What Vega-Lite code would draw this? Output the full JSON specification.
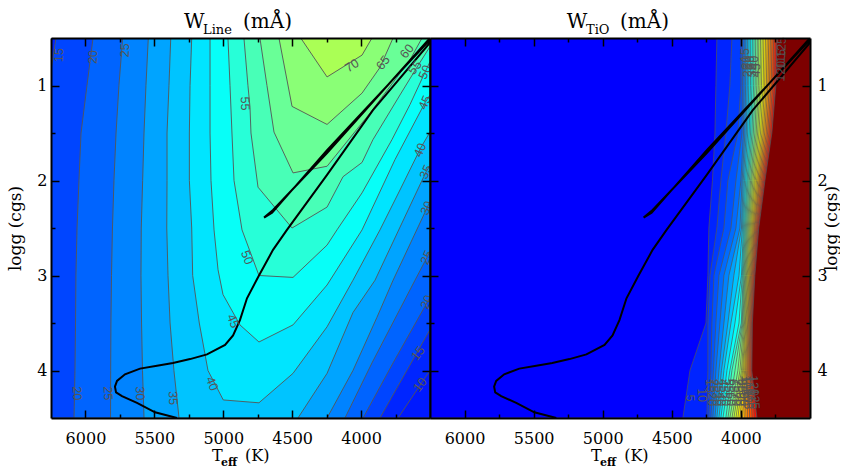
{"$schema":"https://vega.github.io/schema/vega-lite/v6.json","background":"white","padding":{"left":6,"top":12,"right":0,"bottom":0},"bounds":"flush","spacing":0,"resolve":{"scale":{"fill":"independent"}},"config":{"view":{"stroke":null},"axis":{"grid":false,"title":null,"domainColor":"#000","tickColor":"#000","labelColor":"#000","labelOverlap":false,"labelFlush":false},"text":{"font":"Liberation Sans"}},
"datasets":{
"track":[{"T":5336,"g":4.5},{"T":5495,"g":4.44},{"T":5626,"g":4.34},{"T":5735,"g":4.27},{"T":5778,"g":4.23},{"T":5786,"g":4.17},{"T":5771,"g":4.11},{"T":5713,"g":4.04},{"T":5604,"g":3.98},{"T":5481,"g":3.95},{"T":5365,"g":3.92},{"T":5241,"g":3.88},{"T":5118,"g":3.83},{"T":4987,"g":3.73},{"T":4929,"g":3.63},{"T":4879,"g":3.47},{"T":4828,"g":3.24},{"T":4741,"g":3.0},{"T":4639,"g":2.73},{"T":4538,"g":2.52},{"T":4247,"g":1.94},{"T":3914,"g":1.26},{"T":3500,"g":0.55},{"T":3500,"g":0.5},{"T":4247,"g":1.71},{"T":4639,"g":2.31},{"T":4704,"g":2.39},{"T":4646,"g":2.34},{"T":4247,"g":1.68},{"T":3500,"g":0.52}],
"left":[
{"L":8,"T":6250,"g":0.5},{"L":8,"T":6250,"g":4.5},{"L":8,"T":3500,"g":4.5},{"L":8,"T":3500,"g":0.5},
{"L":10,"T":6250,"g":0.5},{"L":10,"T":6250,"g":4.5},{"L":10,"T":3732,"g":4.5},{"L":10,"T":3500,"g":4.0},{"L":10,"T":3500,"g":0.5},
{"L":15,"T":6214,"g":0.5},{"L":15,"T":6250,"g":0.84},{"L":15,"T":6250,"g":4.5},{"L":15,"T":3863,"g":4.5},{"L":15,"T":3500,"g":3.57},{"L":15,"T":3500,"g":0.5},
{"L":20,"T":5945,"g":0.5},{"L":20,"T":5989,"g":1},{"L":20,"T":6032,"g":1.5},{"L":20,"T":6047,"g":2},{"L":20,"T":6061,"g":2.5},{"L":20,"T":6069,"g":3},{"L":20,"T":6072,"g":3.5},{"L":20,"T":6076,"g":4},{"L":20,"T":6083,"g":4.5},{"L":20,"T":3986,"g":4.5},{"L":20,"T":3768,"g":3.92},{"L":20,"T":3500,"g":3.23},{"L":20,"T":3500,"g":0.5},
{"L":25,"T":5730,"g":0.5},{"L":25,"T":5757,"g":1},{"L":25,"T":5778,"g":1.5},{"L":25,"T":5793,"g":2},{"L":25,"T":5804,"g":2.5},{"L":25,"T":5811,"g":3},{"L":25,"T":5815,"g":3.5},{"L":25,"T":5817,"g":4},{"L":25,"T":5818,"g":4.5},{"L":25,"T":4117,"g":4.5},{"L":25,"T":3921,"g":3.92},{"L":25,"T":3609,"g":3.05},{"L":25,"T":3522,"g":2.81},{"L":25,"T":3500,"g":2.74},{"L":25,"T":3500,"g":0.5},
{"L":30,"T":5544,"g":0.5},{"L":30,"T":5561,"g":1},{"L":30,"T":5575,"g":1.5},{"L":30,"T":5585,"g":2},{"L":30,"T":5595,"g":2.5},{"L":30,"T":5597,"g":3},{"L":30,"T":5593,"g":3.5},{"L":30,"T":5586,"g":4},{"L":30,"T":5575,"g":4.5},{"L":30,"T":4247,"g":4.5},{"L":30,"T":4059,"g":4},{"L":30,"T":3885,"g":3.44},{"L":30,"T":3768,"g":3.05},{"L":30,"T":3522,"g":2.29},{"L":30,"T":3500,"g":2.22},{"L":30,"T":3500,"g":0.5},
{"L":35,"T":5381,"g":0.5},{"L":35,"T":5394,"g":1},{"L":35,"T":5408,"g":1.5},{"L":35,"T":5408,"g":2},{"L":35,"T":5410,"g":2.5},{"L":35,"T":5401,"g":3},{"L":35,"T":5386,"g":3.5},{"L":35,"T":5358,"g":4},{"L":35,"T":5321,"g":4.5},{"L":35,"T":4458,"g":4.5},{"L":35,"T":4247,"g":4.03},{"L":35,"T":4059,"g":3.39},{"L":35,"T":3899,"g":3.05},{"L":35,"T":3529,"g":1.91},{"L":35,"T":3500,"g":1.84},{"L":35,"T":3500,"g":0.5},
{"L":40,"T":5229,"g":0.5},{"L":40,"T":5241,"g":1},{"L":40,"T":5246,"g":1.5},{"L":40,"T":5246,"g":2},{"L":40,"T":5229,"g":2.5},{"L":40,"T":5222,"g":3},{"L":40,"T":5174,"g":3.5},{"L":40,"T":5111,"g":4},{"L":40,"T":5000,"g":4.31},{"L":40,"T":4741,"g":4.34},{"L":40,"T":4494,"g":4.03},{"L":40,"T":4247,"g":3.54},{"L":40,"T":4059,"g":3.05},{"L":40,"T":3863,"g":2.52},{"L":40,"T":3718,"g":2.1},{"L":40,"T":3565,"g":1.65},{"L":40,"T":3500,"g":1.49},{"L":40,"T":3500,"g":0.5},
{"L":45,"T":5096,"g":0.5},{"L":45,"T":5096,"g":1},{"L":45,"T":5096,"g":1.5},{"L":45,"T":5089,"g":2},{"L":45,"T":5067,"g":2.52},{"L":45,"T":5038,"g":2.94},{"L":45,"T":5002,"g":3.2},{"L":45,"T":4879,"g":3.52},{"L":45,"T":4741,"g":3.7},{"L":45,"T":4494,"g":3.52},{"L":45,"T":4247,"g":3.1},{"L":45,"T":3993,"g":2.52},{"L":45,"T":3754,"g":1.78},{"L":45,"T":3536,"g":1.18},{"L":45,"T":3500,"g":1.1},{"L":45,"T":3500,"g":0.5},
{"L":50,"T":4966,"g":0.5},{"L":50,"T":4951,"g":1},{"L":50,"T":4937,"g":1.5},{"L":50,"T":4922,"g":2},{"L":50,"T":4864,"g":2.52},{"L":50,"T":4741,"g":3},{"L":50,"T":4494,"g":3.02},{"L":50,"T":4247,"g":2.68},{"L":50,"T":4175,"g":2.52},{"L":50,"T":3993,"g":2.13},{"L":50,"T":3776,"g":1.57},{"L":50,"T":3645,"g":1.2},{"L":50,"T":3536,"g":0.86},{"L":50,"T":3500,"g":0.75},{"L":50,"T":3500,"g":0.5},
{"L":55,"T":4850,"g":0.5},{"L":55,"T":4821,"g":1},{"L":55,"T":4806,"g":1.23},{"L":55,"T":4799,"g":1.5},{"L":55,"T":4748,"g":2.07},{"L":55,"T":4501,"g":2.5},{"L":55,"T":4247,"g":2.28},{"L":55,"T":4131,"g":1.96},{"L":55,"T":3993,"g":1.81},{"L":55,"T":3914,"g":1.57},{"L":55,"T":3718,"g":1.1},{"L":55,"T":3587,"g":0.79},{"L":55,"T":3500,"g":0.59},{"L":55,"T":3500,"g":0.5},
{"L":60,"T":4734,"g":0.5},{"L":60,"T":4683,"g":1},{"L":60,"T":4632,"g":1.49},{"L":60,"T":4494,"g":1.92},{"L":60,"T":4247,"g":1.85},{"L":60,"T":3935,"g":1.29},{"L":60,"T":3645,"g":0.73},{"L":60,"T":3558,"g":0.5},
{"L":65,"T":4596,"g":0.5},{"L":65,"T":4501,"g":1.22},{"L":65,"T":4247,"g":1.41},{"L":65,"T":3993,"g":1.08},{"L":65,"T":3863,"g":0.81},{"L":65,"T":3768,"g":0.5},
{"L":70,"T":4438,"g":0.5},{"L":70,"T":4247,"g":0.91},{"L":70,"T":3993,"g":0.68},{"L":70,"T":3921,"g":0.5}],
"right":[
{"L":-2.5,"T":6250,"g":0.5},{"L":-2.5,"T":6250,"g":4.5},{"L":-2.5,"T":3500,"g":4.5},{"L":-2.5,"T":3500,"g":0.5},
{"L":5,"T":4174,"g":0.5},{"L":5,"T":4181,"g":1},{"L":5,"T":4188,"g":1.5},{"L":5,"T":4206,"g":2},{"L":5,"T":4232,"g":2.5},{"L":5,"T":4239,"g":3},{"L":5,"T":4253,"g":3.5},{"L":5,"T":4369,"g":4},{"L":5,"T":4420,"g":4.5},{"L":5,"T":3500,"g":4.5},{"L":5,"T":3500,"g":0.5},
{"L":10,"T":4065,"g":0.5},{"L":10,"T":4080,"g":1},{"L":10,"T":4109,"g":1.5},{"L":10,"T":4145,"g":2},{"L":10,"T":4174,"g":2.5},{"L":10,"T":4224,"g":3},{"L":10,"T":4239,"g":3.5},{"L":10,"T":4239,"g":4},{"L":10,"T":4246,"g":4.5},{"L":10,"T":3500,"g":4.5},{"L":10,"T":3500,"g":0.5},
{"L":15,"T":4000,"g":0.5},{"L":15,"T":4000,"g":1},{"L":15,"T":4022,"g":1.5},{"L":15,"T":4094,"g":2},{"L":15,"T":4123,"g":2.5},{"L":15,"T":4195,"g":3},{"L":15,"T":4210,"g":3.5},{"L":15,"T":4217,"g":4},{"L":15,"T":4232,"g":4.5},{"L":15,"T":3500,"g":4.5},{"L":15,"T":3500,"g":0.5},
{"L":20,"T":3988,"g":0.5},{"L":20,"T":3989,"g":1},{"L":20,"T":3992,"g":1.5},{"L":20,"T":4036,"g":2},{"L":20,"T":4072,"g":2.5},{"L":20,"T":4159,"g":3},{"L":20,"T":4181,"g":3.5},{"L":20,"T":4199,"g":4},{"L":20,"T":4217,"g":4.5},{"L":20,"T":3500,"g":4.5},{"L":20,"T":3500,"g":0.5},
{"L":25,"T":3976,"g":0.5},{"L":25,"T":3977,"g":1},{"L":25,"T":3981,"g":1.5},{"L":25,"T":4000,"g":2},{"L":25,"T":4036,"g":2.5},{"L":25,"T":4123,"g":3},{"L":25,"T":4152,"g":3.5},{"L":25,"T":4181,"g":4},{"L":25,"T":4203,"g":4.5},{"L":25,"T":3500,"g":4.5},{"L":25,"T":3500,"g":0.5},
{"L":30,"T":3964,"g":0.5},{"L":30,"T":3966,"g":1},{"L":30,"T":3971,"g":1.5},{"L":30,"T":3991,"g":2},{"L":30,"T":4007,"g":2.5},{"L":30,"T":4087,"g":3},{"L":30,"T":4123,"g":3.5},{"L":30,"T":4159,"g":4},{"L":30,"T":4188,"g":4.5},{"L":30,"T":3500,"g":4.5},{"L":30,"T":3500,"g":0.5},
{"L":35,"T":3953,"g":0.5},{"L":35,"T":3954,"g":1},{"L":35,"T":3961,"g":1.5},{"L":35,"T":3983,"g":2},{"L":35,"T":3996,"g":2.5},{"L":35,"T":4051,"g":3},{"L":35,"T":4094,"g":3.5},{"L":35,"T":4141,"g":4},{"L":35,"T":4174,"g":4.5},{"L":35,"T":3500,"g":4.5},{"L":35,"T":3500,"g":0.5},
{"L":40,"T":3941,"g":0.5},{"L":40,"T":3943,"g":1},{"L":40,"T":3951,"g":1.5},{"L":40,"T":3974,"g":2},{"L":40,"T":3989,"g":2.5},{"L":40,"T":4014,"g":3},{"L":40,"T":4072,"g":3.5},{"L":40,"T":4123,"g":4},{"L":40,"T":4159,"g":4.5},{"L":40,"T":3500,"g":4.5},{"L":40,"T":3500,"g":0.5},
{"L":45,"T":3929,"g":0.5},{"L":45,"T":3931,"g":1},{"L":45,"T":3940,"g":1.5},{"L":45,"T":3965,"g":2},{"L":45,"T":3982,"g":2.5},{"L":45,"T":3996,"g":3},{"L":45,"T":4043,"g":3.5},{"L":45,"T":4101,"g":4},{"L":45,"T":4145,"g":4.5},{"L":45,"T":3500,"g":4.5},{"L":45,"T":3500,"g":0.5},
{"L":50,"T":3917,"g":0.5},{"L":50,"T":3920,"g":1},{"L":50,"T":3930,"g":1.5},{"L":50,"T":3956,"g":2},{"L":50,"T":3975,"g":2.5},{"L":50,"T":3990,"g":3},{"L":50,"T":4014,"g":3.5},{"L":50,"T":4080,"g":4},{"L":50,"T":4130,"g":4.5},{"L":50,"T":3500,"g":4.5},{"L":50,"T":3500,"g":0.5},
{"L":55,"T":3905,"g":0.5},{"L":55,"T":3908,"g":1},{"L":55,"T":3920,"g":1.5},{"L":55,"T":3948,"g":2},{"L":55,"T":3968,"g":2.5},{"L":55,"T":3984,"g":3},{"L":55,"T":3997,"g":3.5},{"L":55,"T":4065,"g":4},{"L":55,"T":4109,"g":4.5},{"L":55,"T":3500,"g":4.5},{"L":55,"T":3500,"g":0.5},
{"L":60,"T":3893,"g":0.5},{"L":60,"T":3897,"g":1},{"L":60,"T":3910,"g":1.5},{"L":60,"T":3939,"g":2},{"L":60,"T":3961,"g":2.5},{"L":60,"T":3978,"g":3},{"L":60,"T":3991,"g":3.5},{"L":60,"T":4043,"g":4},{"L":60,"T":4094,"g":4.5},{"L":60,"T":3500,"g":4.5},{"L":60,"T":3500,"g":0.5},
{"L":65,"T":3881,"g":0.5},{"L":65,"T":3885,"g":1},{"L":65,"T":3899,"g":1.5},{"L":65,"T":3930,"g":2},{"L":65,"T":3954,"g":2.5},{"L":65,"T":3972,"g":3},{"L":65,"T":3986,"g":3.5},{"L":65,"T":4022,"g":4},{"L":65,"T":4080,"g":4.5},{"L":65,"T":3500,"g":4.5},{"L":65,"T":3500,"g":0.5},
{"L":70,"T":3870,"g":0.5},{"L":70,"T":3874,"g":1},{"L":70,"T":3889,"g":1.5},{"L":70,"T":3922,"g":2},{"L":70,"T":3947,"g":2.5},{"L":70,"T":3966,"g":3},{"L":70,"T":3980,"g":3.5},{"L":70,"T":4007,"g":4},{"L":70,"T":4065,"g":4.5},{"L":70,"T":3500,"g":4.5},{"L":70,"T":3500,"g":0.5},
{"L":75,"T":3858,"g":0.5},{"L":75,"T":3862,"g":1},{"L":75,"T":3879,"g":1.5},{"L":75,"T":3913,"g":2},{"L":75,"T":3940,"g":2.5},{"L":75,"T":3960,"g":3},{"L":75,"T":3974,"g":3.5},{"L":75,"T":3996,"g":4},{"L":75,"T":4051,"g":4.5},{"L":75,"T":3500,"g":4.5},{"L":75,"T":3500,"g":0.5},
{"L":80,"T":3846,"g":0.5},{"L":80,"T":3851,"g":1},{"L":80,"T":3869,"g":1.5},{"L":80,"T":3904,"g":2},{"L":80,"T":3933,"g":2.5},{"L":80,"T":3954,"g":3},{"L":80,"T":3968,"g":3.5},{"L":80,"T":3988,"g":4},{"L":80,"T":4036,"g":4.5},{"L":80,"T":3500,"g":4.5},{"L":80,"T":3500,"g":0.5},
{"L":85,"T":3834,"g":0.5},{"L":85,"T":3839,"g":1},{"L":85,"T":3858,"g":1.5},{"L":85,"T":3896,"g":2},{"L":85,"T":3926,"g":2.5},{"L":85,"T":3948,"g":3},{"L":85,"T":3963,"g":3.5},{"L":85,"T":3981,"g":4},{"L":85,"T":4022,"g":4.5},{"L":85,"T":3500,"g":4.5},{"L":85,"T":3500,"g":0.5},
{"L":90,"T":3822,"g":0.5},{"L":90,"T":3828,"g":1},{"L":90,"T":3848,"g":1.5},{"L":90,"T":3887,"g":2},{"L":90,"T":3919,"g":2.5},{"L":90,"T":3942,"g":3},{"L":90,"T":3957,"g":3.5},{"L":90,"T":3973,"g":4},{"L":90,"T":4007,"g":4.5},{"L":90,"T":3500,"g":4.5},{"L":90,"T":3500,"g":0.5},
{"L":95,"T":3810,"g":0.5},{"L":95,"T":3816,"g":1},{"L":95,"T":3838,"g":1.5},{"L":95,"T":3878,"g":2},{"L":95,"T":3912,"g":2.5},{"L":95,"T":3936,"g":3},{"L":95,"T":3951,"g":3.5},{"L":95,"T":3966,"g":4},{"L":95,"T":3989,"g":4.5},{"L":95,"T":3500,"g":4.5},{"L":95,"T":3500,"g":0.5},
{"L":100,"T":3798,"g":0.5},{"L":100,"T":3805,"g":1},{"L":100,"T":3828,"g":1.5},{"L":100,"T":3869,"g":2},{"L":100,"T":3905,"g":2.5},{"L":100,"T":3930,"g":3},{"L":100,"T":3946,"g":3.5},{"L":100,"T":3958,"g":4},{"L":100,"T":3972,"g":4.5},{"L":100,"T":3500,"g":4.5},{"L":100,"T":3500,"g":0.5},
{"L":105,"T":3786,"g":0.5},{"L":105,"T":3793,"g":1},{"L":105,"T":3817,"g":1.5},{"L":105,"T":3861,"g":2},{"L":105,"T":3899,"g":2.5},{"L":105,"T":3924,"g":3},{"L":105,"T":3940,"g":3.5},{"L":105,"T":3951,"g":4},{"L":105,"T":3954,"g":4.5},{"L":105,"T":3500,"g":4.5},{"L":105,"T":3500,"g":0.5},
{"L":110,"T":3775,"g":0.5},{"L":110,"T":3781,"g":1},{"L":110,"T":3807,"g":1.5},{"L":110,"T":3852,"g":2},{"L":110,"T":3892,"g":2.5},{"L":110,"T":3918,"g":3},{"L":110,"T":3934,"g":3.5},{"L":110,"T":3943,"g":4},{"L":110,"T":3937,"g":4.5},{"L":110,"T":3500,"g":4.5},{"L":110,"T":3500,"g":0.5},
{"L":115,"T":3763,"g":0.5},{"L":115,"T":3770,"g":1},{"L":115,"T":3797,"g":1.5},{"L":115,"T":3843,"g":2},{"L":115,"T":3885,"g":2.5},{"L":115,"T":3911,"g":3},{"L":115,"T":3929,"g":3.5},{"L":115,"T":3936,"g":4},{"L":115,"T":3919,"g":4.5},{"L":115,"T":3500,"g":4.5},{"L":115,"T":3500,"g":0.5},
{"L":120,"T":3751,"g":0.5},{"L":120,"T":3758,"g":1},{"L":120,"T":3787,"g":1.5},{"L":120,"T":3835,"g":2},{"L":120,"T":3878,"g":2.5},{"L":120,"T":3905,"g":3},{"L":120,"T":3923,"g":3.5},{"L":120,"T":3928,"g":4},{"L":120,"T":3902,"g":4.5},{"L":120,"T":3500,"g":4.5},{"L":120,"T":3500,"g":0.5},
{"L":125,"T":3739,"g":0.5},{"L":125,"T":3747,"g":1},{"L":125,"T":3776,"g":1.5},{"L":125,"T":3826,"g":2},{"L":125,"T":3871,"g":2.5},{"L":125,"T":3899,"g":3},{"L":125,"T":3917,"g":3.5},{"L":125,"T":3921,"g":4},{"L":125,"T":3884,"g":4.5},{"L":125,"T":3500,"g":4.5},{"L":125,"T":3500,"g":0.5},
{"L":142,"T":3739,"g":0.5},{"L":142,"T":3747,"g":1},{"L":142,"T":3776,"g":1.5},{"L":142,"T":3826,"g":2},{"L":142,"T":3871,"g":2.5},{"L":142,"T":3899,"g":3},{"L":142,"T":3917,"g":3.5},{"L":142,"T":3921,"g":4},{"L":142,"T":3884,"g":4.5},{"L":142,"T":3500,"g":4.5},{"L":142,"T":3500,"g":0.5}]
},
"hconcat":[
{"width":379,"height":380,"layer":[
{"data":{"name":"left"},"mark":{"type":"line","stroke":"#555","strokeWidth":0.9,"clip":true},"encoding":{"x":{"field":"T","type":"quantitative","scale":{"domain":[6250,3500],"nice":false,"zero":false},"axis":{"orient":"bottom","zindex":1,"values":[6000,5500,5000,4500,4000],"tickSize":-8,"tickWidth":1.5,"domainWidth":2,"labelFont":"DejaVu Serif","labelFontSize":16,"labelPadding":20,"format":"d"}},"y":{"field":"g","type":"quantitative","scale":{"domain":[4.5,0.5],"nice":false,"zero":false},"axis":{"orient":"left","zindex":1,"values":[1,2,3,4],"tickSize":-8,"tickWidth":1.5,"domainWidth":2,"labelFont":"DejaVu Serif","labelFontSize":16,"labelPadding":12,"format":"d","title":"logg (cgs)","titleFont":"DejaVu Serif","titleFontSize":17,"titleFontWeight":"normal","titlePadding":12}},"order":{"value":null},"detail":{"field":"L","type":"nominal"},"fill":{"field":"L","type":"quantitative","legend":null,"scale":{"interpolate":"rgb","domain":[4,24.5,44,63.5,83,102.5,122,141.5],"range":["#0000ff","#0080ff","#00ffff","#80ff80","#ffff00","#ff8000","#ff0000","#800000"]}}}},
{"data":{"name":"track"},"mark":{"type":"line","color":"#000","strokeWidth":2,"clip":true},"encoding":{"x":{"field":"T","type":"quantitative","axis":{"orient":"bottom","zindex":1,"values":[5750,5250,4750,4250,3750],"tickSize":-4,"tickWidth":1.5,"labels":false,"domain":false}},"y":{"field":"g","type":"quantitative","axis":{"orient":"left","zindex":1,"values":[1.5,2.5,3.5],"tickSize":-4,"tickWidth":1.5,"labels":false,"domain":false,"title":null}},"order":{"value":null}}},
{"data":{"values":[{"T":6192,"g":0.68,"s":"15"},{"T":5945,"g":0.7,"s":"20"},{"T":5713,"g":0.63,"s":"25"}]},"mark":{"type":"text","angle":-88,"fontSize":12.5,"color":"#555"},"encoding":{"x":{"field":"T","type":"quantitative","axis":{"orient":"top","zindex":1,"values":[6000,5500,5000,4500,4000],"tickSize":-8,"tickWidth":1.5,"labels":false,"domainWidth":2}},"y":{"field":"g","type":"quantitative","axis":{"orient":"right","zindex":1,"values":[1,2,3,4],"tickSize":-8,"tickWidth":1.5,"labels":false,"domainWidth":2,"title":null}},"text":{"field":"s"}}},
{"data":{"values":[{"T":4842,"g":1.19,"s":"55"},{"T":5365,"g":4.29,"s":"35"},{"T":5604,"g":4.24,"s":"30"},{"T":5836,"g":4.24,"s":"25"},{"T":6061,"g":4.24,"s":"20"}]},"mark":{"type":"text","angle":88,"fontSize":12.5,"color":"#555"},"encoding":{"x":{"field":"T","type":"quantitative","axis":{"orient":"top","zindex":1,"values":[5750,5250,4750,4250,3750],"tickSize":-4,"tickWidth":1.5,"labels":false,"domain":false}},"y":{"field":"g","type":"quantitative","axis":{"orient":"right","zindex":1,"values":[1.5,2.5,3.5],"tickSize":-4,"tickWidth":1.5,"labels":false,"domain":false,"title":null}},"text":{"field":"s"}}},
{"data":{"values":[{"T":4828,"g":2.81,"s":"50"},{"T":4929,"g":3.48,"s":"45"},{"T":5082,"g":4.14,"s":"40"}]},"mark":{"type":"text","angle":68,"fontSize":12.5,"color":"#555"},"encoding":{"x":{"field":"T","type":"quantitative","axis":null},"y":{"field":"g","type":"quantitative","axis":null},"text":{"field":"s"}}},
{"data":{"values":[{"T":4066,"g":0.79,"s":"70"}]},"mark":{"type":"text","angle":-32,"fontSize":12.5,"color":"#555"},"encoding":{"x":{"field":"T","type":"quantitative","axis":null},"y":{"field":"g","type":"quantitative","axis":null},"text":{"field":"s"}}},
{"data":{"values":[{"T":3841,"g":0.76,"s":"65"},{"T":3667,"g":0.64,"s":"60"},{"T":3609,"g":0.81,"s":"55"},{"T":3587,"g":3.82,"s":"15"},{"T":3572,"g":4.15,"s":"10"}]},"mark":{"type":"text","angle":-52,"fontSize":12.5,"color":"#555"},"encoding":{"x":{"field":"T","type":"quantitative","axis":null},"y":{"field":"g","type":"quantitative","axis":null},"text":{"field":"s"}}},
{"data":{"values":[{"T":3536,"g":0.86,"s":"50"},{"T":3536,"g":1.18,"s":"45"},{"T":3572,"g":1.68,"s":"40"},{"T":3529,"g":1.91,"s":"35"},{"T":3522,"g":2.29,"s":"30"},{"T":3522,"g":2.81,"s":"25"},{"T":3522,"g":3.28,"s":"20"}]},"mark":{"type":"text","angle":-66,"fontSize":12.5,"color":"#555"},"encoding":{"x":{"field":"T","type":"quantitative","axis":null},"y":{"field":"g","type":"quantitative","axis":null},"text":{"field":"s"}}},
{"data":{"values":[{"T":5285,"g":0.395,"s":"W"},{"T":4857,"g":0.395,"s":"(mÅ)"}]},"mark":{"type":"text","align":"left","baseline":"alphabetic","font":"DejaVu Serif","fontSize":20,"color":"#000"},"encoding":{"x":{"field":"T","type":"quantitative","axis":null},"y":{"field":"g","type":"quantitative","axis":null},"text":{"field":"s"}}},
{"data":{"values":[{"T":5082,"g":4.95,"s":"T"},{"T":4842,"g":4.95,"s":"(K)"}]},"mark":{"type":"text","align":"left","baseline":"alphabetic","font":"DejaVu Serif","fontSize":16,"color":"#000"},"encoding":{"x":{"field":"T","type":"quantitative","axis":null},"y":{"field":"g","type":"quantitative","axis":null},"text":{"field":"s"}}},
{"data":{"values":[{"T":5147,"g":0.46,"s":"Line"}]},"mark":{"type":"text","align":"left","baseline":"alphabetic","font":"DejaVu Serif","fontSize":13,"color":"#000"},"encoding":{"x":{"field":"T","type":"quantitative","axis":null},"y":{"field":"g","type":"quantitative","axis":null},"text":{"field":"s"}}},
{"data":{"values":[{"T":5016,"g":5.0,"s":"eff"}]},"mark":{"type":"text","align":"left","baseline":"alphabetic","font":"DejaVu Serif","fontWeight":"bold","fontSize":11,"color":"#000"},"encoding":{"x":{"field":"T","type":"quantitative","axis":null},"y":{"field":"g","type":"quantitative","axis":null},"text":{"field":"s"}}}
],"resolve":{"axis":{"x":"independent","y":"independent"}}},
{"width":380,"height":380,"layer":[
{"data":{"name":"right"},"mark":{"type":"line","stroke":"#555","strokeWidth":0.7,"clip":true},"encoding":{"x":{"field":"T","type":"quantitative","scale":{"domain":[6250,3500],"nice":false,"zero":false},"axis":{"orient":"bottom","zindex":1,"values":[6000,5500,5000,4500,4000],"tickSize":-8,"tickWidth":1.5,"domainWidth":2,"labelFont":"DejaVu Serif","labelFontSize":16,"labelPadding":20,"format":"d"}},"y":{"field":"g","type":"quantitative","scale":{"domain":[4.5,0.5],"nice":false,"zero":false},"axis":{"orient":"right","zindex":1,"values":[1,2,3,4],"tickSize":-8,"tickWidth":1.5,"domainWidth":2,"labelFont":"DejaVu Serif","labelFontSize":16,"labelPadding":15,"format":"d","title":"logg (cgs)","titleFont":"DejaVu Serif","titleFontSize":17,"titleFontWeight":"normal","titlePadding":13,"titleAngle":270,"titleBaseline":"bottom"}},"order":{"value":null},"detail":{"field":"L","type":"nominal"},"fill":{"field":"L","type":"quantitative","legend":null,"scale":{"interpolate":"rgb","domain":[-2.5,24.5,44,63.5,83,102.5,122,141.5],"range":["#0000ff","#0080ff","#00ffff","#80ff80","#ffff00","#ff8000","#ff0000","#800000"]}}}},
{"data":{"name":"track"},"mark":{"type":"line","color":"#000","strokeWidth":2,"clip":true},"encoding":{"x":{"field":"T","type":"quantitative","axis":{"orient":"bottom","zindex":1,"values":[5750,5250,4750,4250,3750],"tickSize":-4,"tickWidth":1.5,"labels":false,"domain":false}},"y":{"field":"g","type":"quantitative","axis":{"orient":"right","zindex":1,"values":[1.5,2.5,3.5],"tickSize":-4,"tickWidth":1.5,"labels":false,"domain":false,"title":null}},"order":{"value":null}}},
{"data":{"values":[{"T":3970,"g":0.68,"s":"15"},{"T":3960,"g":0.76,"s":"20"},{"T":3950,"g":0.84,"s":"25"},{"T":3935,"g":0.76,"s":"30"},{"T":3920,"g":0.84,"s":"35"},{"T":3905,"g":0.76,"s":"40"},{"T":3890,"g":0.84,"s":"45"},{"T":3710,"g":0.72,"s":"115"},{"T":3710,"g":0.85,"s":"120"},{"T":3705,"g":0.6,"s":"125"}]},"mark":{"type":"text","angle":-88,"fontSize":12.5,"color":"#555"},"encoding":{"x":{"field":"T","type":"quantitative","axis":{"orient":"top","zindex":1,"values":[6000,5500,5000,4500,4000],"tickSize":-8,"tickWidth":1.5,"labels":false,"domainWidth":2}},"y":{"field":"g","type":"quantitative","axis":{"orient":"left","zindex":1,"values":[1,2,3,4],"tickSize":-8,"tickWidth":1.5,"labels":false,"domainWidth":2,"title":null}},"text":{"field":"s"}}},
{"data":{"values":[{"T":4224,"g":4.16,"s":"15"},{"T":4210,"g":4.3,"s":"20"},{"T":4195,"g":4.16,"s":"25"},{"T":4174,"g":4.3,"s":"30"},{"T":4159,"g":4.16,"s":"35"},{"T":4145,"g":4.3,"s":"40"},{"T":4123,"g":4.16,"s":"45"},{"T":4109,"g":4.3,"s":"50"},{"T":4087,"g":4.16,"s":"55"},{"T":4072,"g":4.3,"s":"60"},{"T":4051,"g":4.16,"s":"65"},{"T":4036,"g":4.3,"s":"70"},{"T":4022,"g":4.16,"s":"75"},{"T":4007,"g":4.3,"s":"80"},{"T":3993,"g":4.16,"s":"85"},{"T":3978,"g":4.3,"s":"90"},{"T":3964,"g":4.16,"s":"100"},{"T":3949,"g":4.3,"s":"105"},{"T":3935,"g":4.16,"s":"110"},{"T":3920,"g":4.3,"s":"115"},{"T":3906,"g":4.16,"s":"120"},{"T":3899,"g":4.3,"s":"125"},{"T":4368,"g":4.29,"s":"5"},{"T":4282,"g":4.26,"s":"10"}]},"mark":{"type":"text","angle":88,"fontSize":12.5,"color":"#555"},"encoding":{"x":{"field":"T","type":"quantitative","axis":{"orient":"top","zindex":1,"values":[5750,5250,4750,4250,3750],"tickSize":-4,"tickWidth":1.5,"labels":false,"domain":false}},"y":{"field":"g","type":"quantitative","axis":{"orient":"left","zindex":1,"values":[1.5,2.5,3.5],"tickSize":-4,"tickWidth":1.5,"labels":false,"domain":false,"title":null}},"text":{"field":"s"}}},
{"data":{"values":[{"T":5260,"g":0.395,"s":"W"},{"T":4875,"g":0.395,"s":"(mÅ)"}]},"mark":{"type":"text","align":"left","baseline":"alphabetic","font":"DejaVu Serif","fontSize":20,"color":"#000"},"encoding":{"x":{"field":"T","type":"quantitative","axis":null},"y":{"field":"g","type":"quantitative","axis":null},"text":{"field":"s"}}},
{"data":{"values":[{"T":5085,"g":4.95,"s":"T"},{"T":4845,"g":4.95,"s":"(K)"}]},"mark":{"type":"text","align":"left","baseline":"alphabetic","font":"DejaVu Serif","fontSize":16,"color":"#000"},"encoding":{"x":{"field":"T","type":"quantitative","axis":null},"y":{"field":"g","type":"quantitative","axis":null},"text":{"field":"s"}}},
{"data":{"values":[{"T":5121,"g":0.46,"s":"TiO"}]},"mark":{"type":"text","align":"left","baseline":"alphabetic","font":"DejaVu Serif","fontSize":13,"color":"#000"},"encoding":{"x":{"field":"T","type":"quantitative","axis":null},"y":{"field":"g","type":"quantitative","axis":null},"text":{"field":"s"}}},
{"data":{"values":[{"T":5019,"g":5.0,"s":"eff"}]},"mark":{"type":"text","align":"left","baseline":"alphabetic","font":"DejaVu Serif","fontWeight":"bold","fontSize":11,"color":"#000"},"encoding":{"x":{"field":"T","type":"quantitative","axis":null},"y":{"field":"g","type":"quantitative","axis":null},"text":{"field":"s"}}}
],"resolve":{"axis":{"x":"independent","y":"independent"}}}
]}
